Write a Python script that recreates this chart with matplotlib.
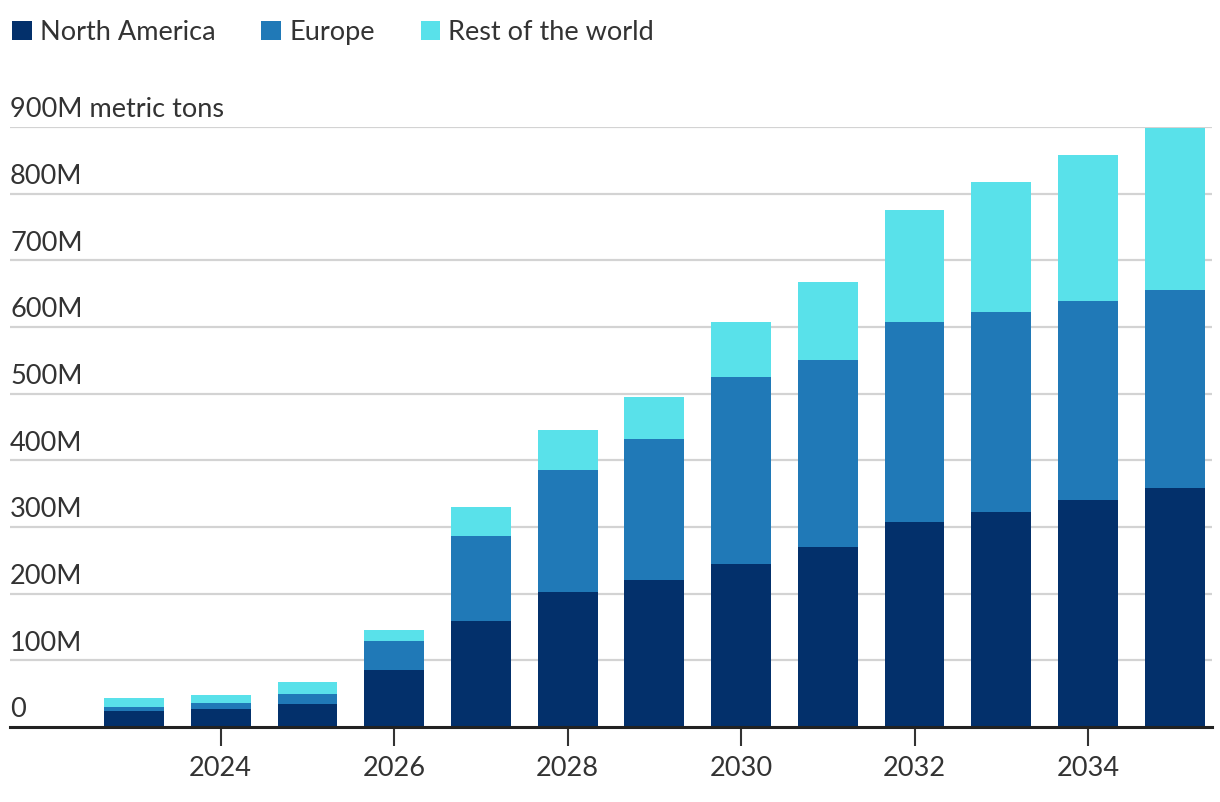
import numpy as np
import matplotlib
matplotlib.use("Agg")
import matplotlib.pyplot as plt
import matplotlib.transforms as mtransforms
from matplotlib.patches import Patch

# data (million metric tons)
years = [2023, 2024, 2025, 2026, 2027, 2028, 2029, 2030, 2031, 2032, 2033, 2034, 2035]
north_america = [24, 27, 35, 86, 159, 202, 220, 244, 270, 308, 323, 340, 358]
europe = [6, 9, 15, 43, 127, 183, 212, 281, 280, 299, 299, 299, 297]
rest_of_world = [14, 12, 18, 17, 44, 60, 63, 82, 118, 168, 195, 219, 243]

series_names = ["North America", "Europe", "Rest of the world"]
colors = ["#03306B", "#2079B7", "#59E1EA"]

y_ticks = [0, 100, 200, 300, 400, 500, 600, 700, 800, 900]
y_labels = ["0", "100M", "200M", "300M", "400M", "500M", "600M", "700M", "800M", "900M metric tons"]
x_ticks = [2024, 2026, 2028, 2030, 2032, 2034]

plt.rcParams["font.family"] = ["Lato", "DejaVu Sans"]
text_color = "#333333"
fs = 19.5

fig = plt.figure(figsize=(12.2, 8.02), dpi=100)
ax = fig.add_axes([10 / 1220, 75 / 802, 1202 / 1220, 600 / 802])

x = np.array(years)
bottom = np.zeros(len(years))
for vals, col in zip([north_america, europe, rest_of_world], colors):
    ax.bar(x, vals, width=0.69, bottom=bottom, color=col, zorder=3, clip_on=False)
    bottom += np.array(vals)

ax.set_xlim(2021.57, 2035.43)
ax.set_ylim(0, 900)

# grid
for v in y_ticks[1:]:
    ax.axhline(v, color="#d3d3d3", linewidth=1.6, zorder=1)

# y labels above grid lines
trans = mtransforms.blended_transform_factory(ax.transAxes, ax.transData)
for v, lab in zip(y_ticks, y_labels):
    ax.text(0.0, v + 7, lab, transform=trans, ha="left", va="bottom",
            fontsize=fs, color=text_color, zorder=4)

ax.set_yticks([])
ax.set_xticks(x_ticks)
ax.set_xticklabels([str(t) for t in x_ticks], fontsize=fs, color=text_color)
ax.tick_params(axis="x", length=14, width=1.5, color="#333333", pad=7, direction="out")

for s in ["top", "right", "left"]:
    ax.spines[s].set_visible(False)
ax.spines["bottom"].set_color("#222222")
ax.spines["bottom"].set_linewidth(2.2)
ax.spines["bottom"].set_zorder(5)

handles = [Patch(facecolor=c, edgecolor="none", label=n) for n, c in zip(series_names, colors)]
fig.legend(handles=handles, loc="upper left", bbox_to_anchor=(0.0, 0.99), ncol=3,
           frameon=False, fontsize=fs, handlelength=0.72, handleheight=0.72,
           handletextpad=0.3, columnspacing=1.7, borderpad=0.25, borderaxespad=0.2,
           labelcolor=text_color)

fig.savefig("out.png", dpi=100)
